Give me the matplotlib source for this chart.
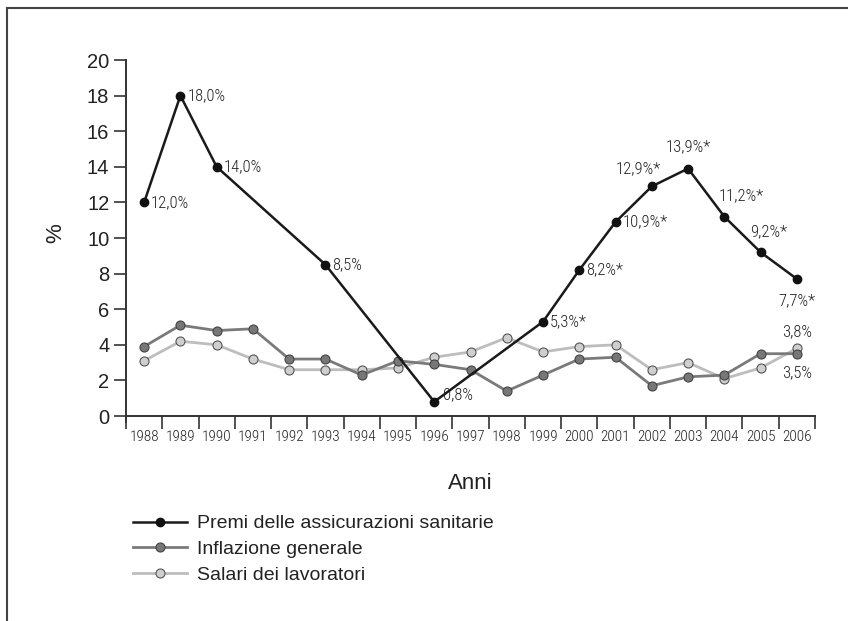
import numpy as np
import matplotlib.pyplot as plt
from matplotlib.lines import Line2D

# ##### DATA ######
anni = ['1988', '1989', '1990', '1991', '1992', '1993', '1994', '1995', '1996', '1997',
        '1998', '1999', '2000', '2001', '2002', '2003', '2004', '2005', '2006']

premi_anni = ['1988', '1989', '1990', '1993', '1996', '1999', '2000', '2001', '2002',
              '2003', '2004', '2005', '2006']
premi = [12.0, 18.0, 14.0, 8.5, 0.8, 5.3, 8.2, 10.9, 12.9, 13.9, 11.2, 9.2, 7.7]
premi_etichette = ['12,0%', '18,0%', '14,0%', '8,5%', '0,8%', '5,3%*', '8,2%*', '10,9%*',
                   '12,9%*', '13,9%*', '11,2%*', '9,2%*', '7,7%*']

inflazione = [3.9, 5.1, 4.8, 4.9, 3.2, 3.2, 2.3, 3.1, 2.9, 2.6,
              1.4, 2.3, 3.2, 3.3, 1.7, 2.2, 2.3, 3.5, 3.5]
salari = [3.1, 4.2, 4.0, 3.2, 2.6, 2.6, 2.6, 2.7, 3.3, 3.6,
          4.4, 3.6, 3.9, 4.0, 2.6, 3.0, 2.1, 2.7, 3.8]
######################

narrow = ['Roboto Condensed', 'Archivo Narrow', 'Liberation Sans']
plt.rcParams['font.family'] = ['Liberation Sans', 'DejaVu Sans']

fig = plt.figure(figsize=(8.48, 6.21), dpi=100)
ax = fig.add_axes([126/848, 1-416/621, (815-126)/848, (416-60)/621])

x_all = np.arange(len(anni))
x_premi = [anni.index(a) for a in premi_anni]

col_axis = '#333333'
col_text = '#222222'
ax.plot(x_all, salari, '-', color='#bdbdbd', lw=2, marker='o', ms=6.5,
        mfc='#cfcfcf', mec='#555555', mew=0.8, zorder=2, label='Salari dei lavoratori')
ax.plot(x_all, inflazione, '-', color='#7a7a7a', lw=2, marker='o', ms=6.5,
        mfc='#777777', mec='#444444', mew=0.8, zorder=3, label='Inflazione generale')
ax.plot(x_premi, premi, '-', color='#1a1a1a', lw=1.8, marker='o', ms=6,
        mfc='#111111', mec='#111111', zorder=4, label='Premi delle assicurazioni sanitarie')

# etichette dei premi: offset in punti
offsets = {
    '0,8%': (6, 5, 'left'),
    '12,9%*': (-10, 13, 'center'),
    '13,9%*': (0, 16, 'center'),
    '11,2%*': (12, 15, 'center'),
    '9,2%*': (6, 15, 'center'),
    '7,7%*': (0, -16, 'center'),
}
for xi, yi, lab in zip(x_premi, premi, premi_etichette):
    dx, dy, ha = offsets.get(lab, (5, 0, 'left'))
    ax.annotate(lab, (xi, yi), xytext=(dx, dy), textcoords='offset points',
                ha=ha, va='center', fontsize=12, family=narrow, weight='light', color=col_text)

ax.annotate('3,8%', (18, salari[-1]), xytext=(0, 12), textcoords='offset points',
            ha='center', va='center', fontsize=12, family=narrow, weight='light', color=col_text)
ax.annotate('3,5%', (18, inflazione[-1]), xytext=(0, -14), textcoords='offset points',
            ha='center', va='center', fontsize=12, family=narrow, weight='light', color=col_text)

ax.set_xlim(-0.5, len(anni) - 0.5)
ax.set_ylim(0, 20)
ax.set_yticks(np.arange(0, 21, 2))
ax.set_xticks(np.arange(-0.5, len(anni), 1))
ax.set_xticklabels([])
ax.set_xticks(x_all, minor=True)
ax.set_xticklabels(anni, minor=True, family=narrow, weight='light', fontsize=11, color=col_text)
ax.tick_params(axis='x', which='major', length=9, width=1.2, color=col_axis)
ax.tick_params(axis='x', which='minor', length=0, pad=10)
ax.tick_params(axis='y', length=9, width=1.2, color=col_axis, labelsize=14.5, pad=3,
               labelcolor=col_text)

for s in ['top', 'right']:
    ax.spines[s].set_visible(False)
for s in ['left', 'bottom']:
    ax.spines[s].set_color(col_axis)
    ax.spines[s].set_linewidth(1.4)
ax.spines['left'].set_bounds(-0.35, 20)

ax.set_xlabel('Anni', fontsize=16, labelpad=21, color=col_text)
ax.set_ylabel('%', fontsize=16, color=col_text)
ax.yaxis.set_label_coords(-0.087, 0.514)

handles, labels = ax.get_legend_handles_labels()
fig.legend(handles[::-1], labels[::-1], loc='upper left', bbox_to_anchor=(125/848, 1-507/621),
           frameon=False, fontsize=14, handlelength=2.8, labelspacing=0.42, handletextpad=0.5,
           borderaxespad=0, labelcolor=col_text)

# cornice
fig.add_artist(Line2D([7/848, 7/848], [0, 1-8/621], color='#444444', lw=1.5))
fig.add_artist(Line2D([7/848, 1], [1-8/621, 1-8/621], color='#444444', lw=1.5))

plt.savefig('out.png', dpi=100)
plt.close()
